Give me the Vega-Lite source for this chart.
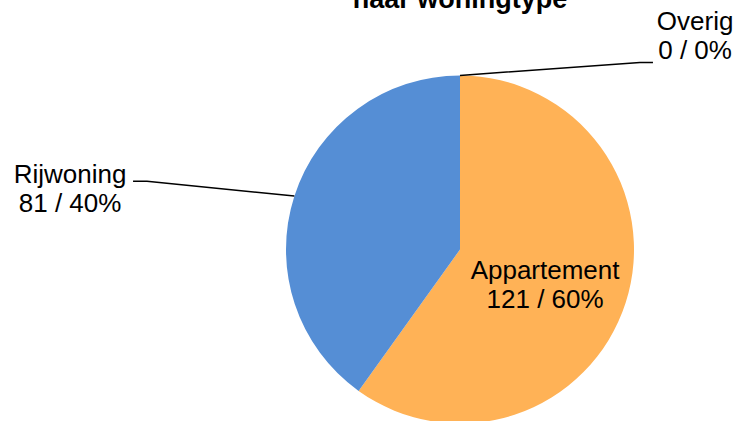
{
  "$schema": "https://vega.github.io/schema/vega-lite/v6.json",
  "autosize": {"type": "none"},
  "width": 340,
  "height": 340,
  "padding": {"left": 290, "top": 79.5, "right": 108, "bottom": 1.5},
  "background": "white",
  "title": {
    "text": "naar woningtype",
    "font": "Liberation Sans",
    "fontSize": 27,
    "fontWeight": "bold",
    "color": "black",
    "anchor": "middle",
    "frame": "group",
    "baseline": "alphabetic",
    "offset": -26
  },
  "config": {"view": {"stroke": null}},
  "layer": [
    {
      "data": {"values": [
        {"type": "Appartement", "count": 121},
        {"type": "Rijwoning", "count": 81},
        {"type": "Overig", "count": 0}
      ]},
      "mark": {"type": "arc", "outerRadius": 174},
      "encoding": {
        "theta": {"field": "count", "type": "quantitative", "stack": true},
        "color": {
          "field": "type",
          "type": "nominal",
          "scale": {"domain": ["Appartement", "Rijwoning", "Overig"], "range": ["#FFB256", "#558ED5", "#A5A5A5"]},
          "legend": null
        },
        "order": {"field": "count", "type": "quantitative", "sort": "descending"}
      }
    },
    {
      "data": {"values": [
        {"line": "Rijwoning", "x": -1.879, "y": 0.392},
        {"line": "Rijwoning", "x": -1.799, "y": 0.392},
        {"line": "Rijwoning", "x": -0.952, "y": 0.307},
        {"line": "Overig", "x": 0.0, "y": 1.0},
        {"line": "Overig", "x": 1.034, "y": 1.075},
        {"line": "Overig", "x": 1.109, "y": 1.075}
      ]},
      "mark": {"type": "line", "color": "black", "strokeWidth": 1.5},
      "encoding": {
        "x": {"field": "x", "type": "quantitative", "scale": {"domain": [-0.977, 0.977], "nice": false, "zero": false}, "axis": null},
        "y": {"field": "y", "type": "quantitative", "scale": {"domain": [-0.977, 0.977], "nice": false, "zero": false}, "axis": null},
        "detail": {"field": "line", "type": "nominal"}
      }
    },
    {
      "data": {"values": [
        {"label": "Appartement\n121 / 60%", "x": 0.489, "y": -0.171},
        {"label": "Rijwoning\n81 / 40%", "x": -2.241, "y": 0.382},
        {"label": "Overig\n0 / 0%", "x": 1.351, "y": 1.261}
      ]},
      "mark": {
        "type": "text",
        "font": "Liberation Sans",
        "fontSize": 26,
        "lineHeight": 29,
        "align": "center",
        "baseline": "alphabetic",
        "lineBreak": "\n",
        "color": "black"
      },
      "encoding": {
        "x": {"field": "x", "type": "quantitative", "scale": {"domain": [-0.977, 0.977], "nice": false, "zero": false}, "axis": null},
        "y": {"field": "y", "type": "quantitative", "scale": {"domain": [-0.977, 0.977], "nice": false, "zero": false}, "axis": null},
        "text": {"field": "label", "type": "nominal"}
      }
    }
  ]
}
